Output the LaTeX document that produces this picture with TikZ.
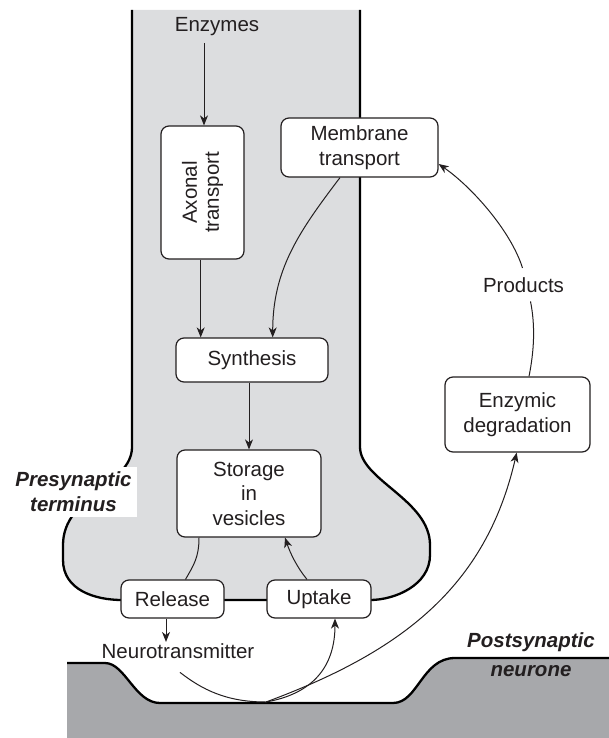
\documentclass[tikz,border=0pt]{standalone}
\usepackage{fontspec}
\setmainfont{Liberation Sans}
\usetikzlibrary{arrows.meta}
\definecolor{ink}{RGB}{35,31,32}
\definecolor{presyn}{RGB}{220,221,223}
\definecolor{postsyn}{RGB}{167,168,171}
\begin{document}
\begin{tikzpicture}[x=1pt,y=-1pt,
  font=\fontsize{20.5}{24.5}\selectfont,
  stage/.style={draw=ink, line width=1.2pt, rounded corners=8pt, fill=white,
    align=center, inner sep=0pt, text=ink},
  flow/.style={draw=ink, line width=1pt,
    -{Stealth[length=10pt,width=8pt,inset=3pt]}},
  link/.style={draw=ink, line width=1pt},
  wall/.style={draw=black, line width=2.3pt, line join=round},
  tag/.style={font=\fontsize{20.5}{25}\selectfont\bfseries\itshape, text=ink,
    align=center, inner sep=0pt},
  plain/.style={text=ink}
]
\useasboundingbox (0,0) rectangle (609,738);

% presynaptic terminal (fill closes the open top)
\draw[wall, fill=presyn] (132,10) -- (132,447)
  .. controls (132,485) and (63,495) .. (63,545) -- (63,560)
  .. controls (63,590) and (95,600) .. (122,600) -- (370,600)
  .. controls (395,600) and (430,585) .. (430,555) -- (430,545)
  .. controls (430,500) and (360,480) .. (360,447) -- (360,10);

% postsynaptic neurone
\fill[postsyn] (67,663) -- (105,663)
  .. controls (125,663) and (135,703) .. (160,703) -- (393,703)
  .. controls (418,703) and (422,658) .. (455,658) -- (609,658)
  -- (609,738) -- (67,738) -- cycle;
\draw[wall] (67,663) -- (105,663)
  .. controls (125,663) and (135,703) .. (160,703) -- (393,703)
  .. controls (418,703) and (422,658) .. (455,658) -- (609,658);

% process boxes
\node[stage, minimum width=83pt, minimum height=133pt] (axonal) at (202.5,192.5)
  {\rotatebox{90}{\fontsize{20.5}{22}\selectfont\parbox{110pt}{\centering Axonal\\transport}}};
\node[stage, minimum width=157pt, minimum height=59pt] (membrane) at (359.5,147.5) {Membrane\\transport};
\node[stage, minimum width=152pt, minimum height=44pt] (synthesis) at (252,360) {Synthesis};
\node[stage, minimum width=144pt, minimum height=87pt] (storage) at (249,493.5) {Storage\\in\\vesicles};
\node[stage, minimum width=103pt, minimum height=38pt] (release) at (172.5,599) {Release};
\node[stage, minimum width=104pt, minimum height=38pt] (uptake) at (319,599) {Uptake};
\node[stage, minimum width=145pt, minimum height=75pt] (enzymic) at (517.5,414.5) {Enzymic\\degradation};

% free labels
\node[plain, anchor=base] (enzymes) at (217,32) {Enzymes};
\node[plain, anchor=base, inner ysep=9pt] (products) at (523.5,292) {Products};
\node[plain, anchor=base, inner sep=1pt] (neuro) at (178,658) {Neurotransmitter};
\node[tag, fill=white, minimum width=127pt, minimum height=50pt] (pre) at (73.5,492) {Presynaptic\\terminus};
\node[tag] (post) at (531,655) {Postsynaptic\\[4pt]neurone};

\coordinate (cleft) at (266,702);

% pathway
\draw[flow] ([xshift=1.5pt,yshift=-3pt]axonal.north |- enzymes.south) -- ([xshift=1.5pt]axonal.north);
\draw[flow] ([xshift=-1.8pt]axonal.south) -- ([xshift=-1.8pt]axonal.south |- synthesis.north);
\draw[flow] (storage.north |- synthesis.south) -- (storage.north);
\draw[flow] ([xshift=-19.5pt]membrane.south) .. controls +(-41,54) and +(0,-68) .. ([xshift=20.7pt]synthesis.north);
\draw[link] ([xshift=-50pt]storage.south) .. controls +(0,20) and +(8,-14) .. ([xshift=13pt]release.north);
\draw[flow] ([xshift=-12pt]uptake.north) .. controls +(-10,-12) and +(5,15) .. ([xshift=36pt]storage.south);
\draw[flow] ([xshift=-6.5pt]release.south) -- ([xshift=-6.5pt]release.south |- neuro.north);
\draw[link] ([xshift=2pt,yshift=-13pt]neuro.south) .. controls +(22,17) and +(-40,0) .. (cleft);
\draw[flow] (cleft) .. controls +(45,-8) and +(0,50) .. ([xshift=16pt]uptake.south);
\draw[flow] (cleft) .. controls +(135,-50) and +(-31,135) .. ([xshift=-0.8pt]enzymic.south);
\draw[link] ([xshift=11.5pt]enzymic.north) .. controls +(5,-25) and +(5,25) .. ([xshift=7pt]products.south);
\draw[flow] ([xshift=-1pt]products.north) .. controls +(-12,-38) and +(32,22) .. ([yshift=-16.5pt]membrane.east);
\end{tikzpicture}
\end{document}
